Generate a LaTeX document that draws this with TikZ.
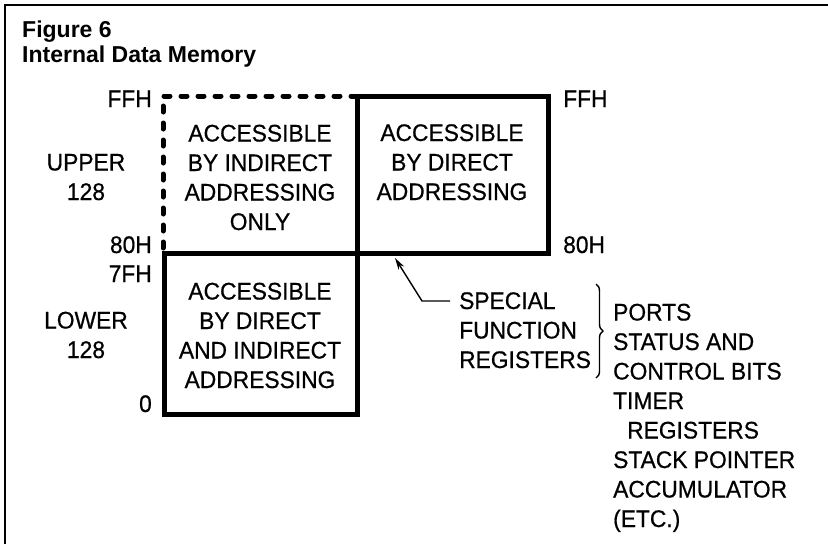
\documentclass[tikz,border=0pt]{standalone}
\usepackage{fontspec}
\setmainfont{Liberation Sans}
\newfontfamily\lettering[FakeStretch=0.95,FakeBold=0.6]{Liberation Sans}
\usetikzlibrary{arrows.meta,decorations.pathreplacing}

\begin{document}
\begin{tikzpicture}[x=1pt,y=-1pt,
  % multi-line nodes are placed by the baseline of their last line
  lettertext/.style={font=\lettering\fontsize{24}{29.5}\selectfont, inner sep=0pt, align=center, anchor=base},
  listtext/.style={lettertext, align=left, anchor=base west},
  addr/.style={lettertext, anchor=base east},
  addrright/.style={lettertext, anchor=base west},
  heavy/.style={line width=5pt, line join=miter},
  heavydash/.style={line width=5pt, line cap=round, dash pattern=on 6pt off 11pt},
  frameline/.style={line width=2.5pt},
  pointer/.style={line width=1.4pt, -{Stealth[length=12pt,width=6.5pt]}}]

\useasboundingbox (0,0) rectangle (828,544);

% figure frame (left and top rules)
\draw[frameline] (5,544) -- (5,5) -- (828,5);

% caption
\node[font=\bfseries\fontsize{23}{25}\selectfont, inner sep=0pt, align=left, anchor=base west]
  (caption) at (22,62) {Figure 6\\Internal Data Memory};

% memory map outline
\draw[heavydash] (357,96) -- (163,96) -- (163,253);
\draw[heavy] (357,96) rectangle (548,253);
\draw[heavy] (164,253) rectangle (357,414);

% region texts
\node[lettertext] (indirect) at (260,230) {ACCESSIBLE\\BY INDIRECT\\ADDRESSING\\ONLY};
\node[lettertext] (direct) at (452,200) {ACCESSIBLE\\BY DIRECT\\ADDRESSING};
\node[lettertext] (both) at (260,388) {ACCESSIBLE\\BY DIRECT\\AND INDIRECT\\ADDRESSING};

% address marks
\node[addr] (ffhl) at (152,107) {FFH};
\node[addr] (h80l) at (152,253) {80H};
\node[addr] (h7f) at (152,282) {7FH};
\node[addr] (zero) at (152,412) {0};
\node[addrright] (ffhr) at (563,107) {FFH};
\node[addrright] (h80r) at (563,253) {80H};

% half labels
\node[lettertext] (upper) at (86,200) {UPPER\\128};
\node[lettertext] (lower) at (86,358) {LOWER\\128};

% special function registers callout
\node[listtext] (sfr) at (459,368) {SPECIAL\\FUNCTION\\REGISTERS};
\coordinate (sfrlead) at (450,301);
\coordinate (sfrbend) at (422,301);
\coordinate (sfrtip) at (395,258);
\draw[pointer] (sfrlead) -- (sfrbend) -- (sfrtip);

\draw[line width=1.4pt, decorate, decoration={brace, amplitude=7pt}]
  (596,284) -- (596,378);

\node[listtext] (sfrlist) at (613,527)
  {PORTS\\STATUS AND\\CONTROL BITS\\TIMER\\\hspace*{14pt}REGISTERS\\STACK POINTER\\ACCUMULATOR\\(ETC.)};

\end{tikzpicture}
\end{document}
